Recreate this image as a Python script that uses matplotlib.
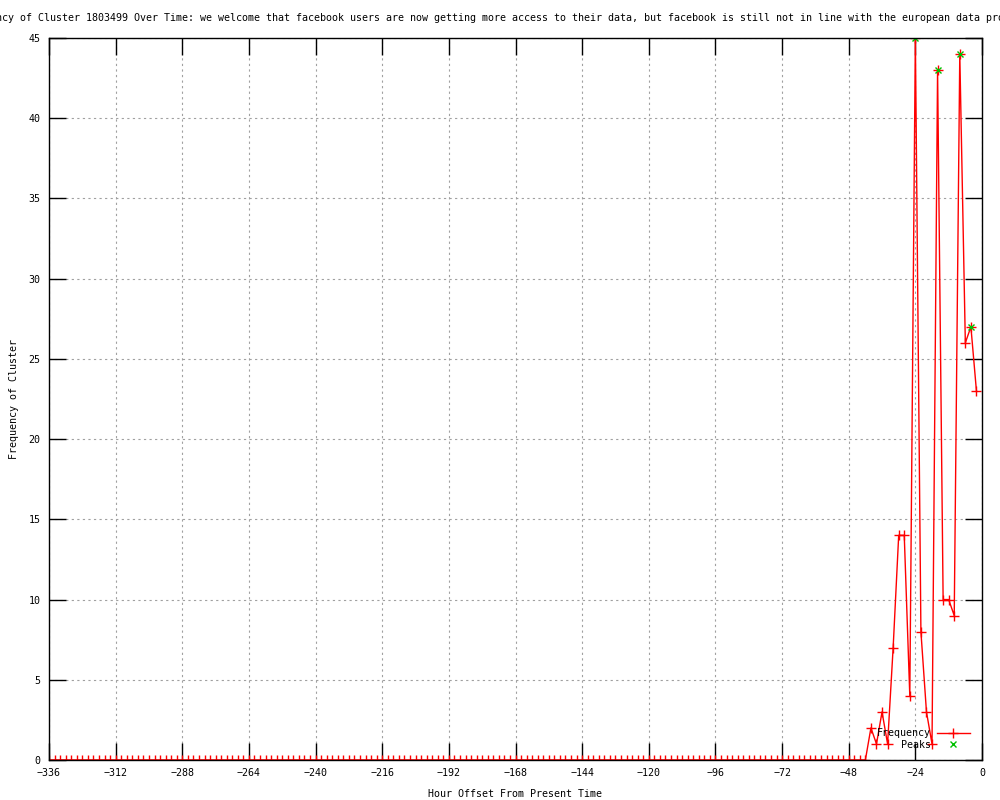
import numpy as np
import matplotlib
matplotlib.use("Agg")
import matplotlib.pyplot as plt

# --- donnees ---
heures = np.arange(-336, 0, 2)          # pas de 2 h, de -336 a -2
frequence = [0] * 148 + [2, 1, 3, 1, 7, 14, 14, 4, 45, 8,
                         3, 1, 43, 10, 10, 9, 44, 26, 27, 23]

pics_heures = [-24, -16, -8, -4]
pics_valeurs = [45, 43, 44, 27]

titre = ("Frequency of Cluster 1803499 Over Time: we welcome that facebook users are "
         "now getting more access to their data, but facebook is still not in line "
         "with the european data protection law")

xticks = list(range(-336, 1, 24))
yticks = list(range(0, 46, 5))

#==============================================
plt.rcParams['font.family'] = ['DejaVu Sans Mono']
fs = 7.2

fig = plt.figure(figsize=(10, 8), dpi=100)
ax = fig.add_axes([0.049, 0.05, 0.933, 0.9025])

ax.plot(heures, frequence, color='#ff0000', lw=1, marker='+', ms=7, mew=1,
        label='Frequency')
ax.plot(pics_heures, pics_valeurs, color='#00c000', lw=0, marker='x', ms=5, mew=1,
        label='    Peaks')

ax.set_xlim(-336, 0)
ax.set_ylim(0, 45)
ax.set_xticks(xticks)
ax.set_yticks(yticks)
ax.tick_params(direction='in', length=12, width=1, top=True, right=True,
               labelsize=fs, pad=6)
ax.grid(True, color='#a0a0a0', linestyle=(0, (2, 3)), lw=0.8)
for s in ax.spines.values():
    s.set_linewidth(1)

ax.set_xlabel('Hour Offset From Present Time', fontsize=fs, labelpad=8)
ax.set_ylabel('Frequency of Cluster', fontsize=fs, labelpad=7)

# titre trop long : il deborde de la figure comme dans l'original
fig.text(0.5155, 0.977, titre, ha='center', va='center', fontsize=fs)

ax.legend(loc='lower right', bbox_to_anchor=(0.987, 0.014), frameon=False,
          markerfirst=False, numpoints=1, fontsize=fs, labelspacing=0.15,
          handlelength=3.3, handletextpad=0.6, borderpad=0, borderaxespad=0)

fig.savefig('out.png', dpi=100)
